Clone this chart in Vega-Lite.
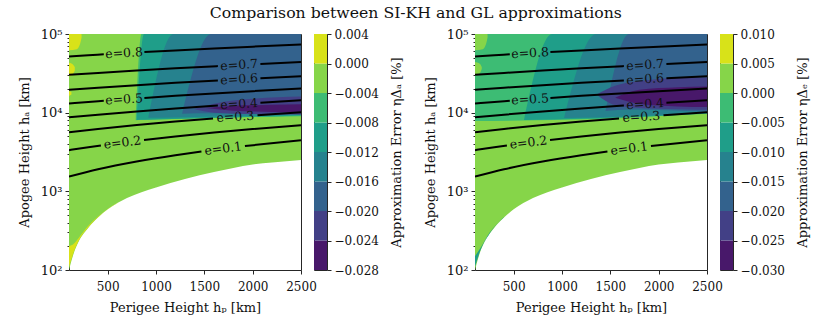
{
"$schema": "https://vega.github.io/schema/vega-lite/v6.json",
"padding": {"left": 17, "top": 4, "right": 2, "bottom": 2},
"title": {"text": "Comparison between SI-KH and GL approximations", "font": "DejaVu Serif", "fontSize": 15.7, "fontWeight": "normal", "color": "#111", "anchor": "middle", "offset": 6, "dx": 2},
"config": {
  "font": "DejaVu Serif",
  "view": {"stroke": "#262626", "strokeWidth": 1},
  "axis": {"domain": false, "grid": false, "labelFont": "DejaVu Serif", "titleFont": "DejaVu Serif", "labelFontSize": 12, "titleFontSize": 13, "titleFontWeight": "normal", "tickColor": "#262626", "labelColor": "#111", "titleColor": "#111", "labelFlush": false, "labelOverlap": false, "tickWidth": 1}
},
"datasets": {
  "ecc": [
    {"e":0.8,"s":"8a","hp":100,"ha":51924},{"e":0.8,"s":"8a","hp":300,"ha":53724},{"e":0.8,"s":"8a","hp":460,"ha":55164},
    {"e":0.8,"s":"8b","hp":880,"ha":58944},{"e":0.8,"s":"8b","hp":1200,"ha":61824},{"e":0.8,"s":"8b","hp":1600,"ha":65424},{"e":0.8,"s":"8b","hp":2000,"ha":69024},{"e":0.8,"s":"8b","hp":2500,"ha":73524},
    {"e":0.7,"s":"7a","hp":100,"ha":30331},{"e":0.7,"s":"7a","hp":400,"ha":32031},{"e":0.7,"s":"7a","hp":800,"ha":34297},{"e":0.7,"s":"7a","hp":1200,"ha":36564},{"e":0.7,"s":"7a","hp":1640,"ha":39057},
    {"e":0.7,"s":"7b","hp":2080,"ha":41551},{"e":0.7,"s":"7b","hp":2500,"ha":43931},
    {"e":0.6,"s":"6a","hp":100,"ha":19534},{"e":0.6,"s":"6a","hp":400,"ha":20734},{"e":0.6,"s":"6a","hp":800,"ha":22334},{"e":0.6,"s":"6a","hp":1200,"ha":23934},{"e":0.6,"s":"6a","hp":1640,"ha":25694},
    {"e":0.6,"s":"6b","hp":2080,"ha":27454},{"e":0.6,"s":"6b","hp":2500,"ha":29134},
    {"e":0.5,"s":"5a","hp":100,"ha":13056},{"e":0.5,"s":"5a","hp":300,"ha":13656},{"e":0.5,"s":"5a","hp":460,"ha":14136},
    {"e":0.5,"s":"5b","hp":880,"ha":15396},{"e":0.5,"s":"5b","hp":1200,"ha":16356},{"e":0.5,"s":"5b","hp":1600,"ha":17556},{"e":0.5,"s":"5b","hp":2000,"ha":18756},{"e":0.5,"s":"5b","hp":2500,"ha":20256},
    {"e":0.4,"s":"4a","hp":100,"ha":8737},{"e":0.4,"s":"4a","hp":400,"ha":9437},{"e":0.4,"s":"4a","hp":800,"ha":10371},{"e":0.4,"s":"4a","hp":1200,"ha":11304},{"e":0.4,"s":"4a","hp":1640,"ha":12331},
    {"e":0.4,"s":"4b","hp":2080,"ha":13357},{"e":0.4,"s":"4b","hp":2500,"ha":14337},
    {"e":0.3,"s":"3a","hp":100,"ha":5653},{"e":0.3,"s":"3a","hp":400,"ha":6210},{"e":0.3,"s":"3a","hp":800,"ha":6953},{"e":0.3,"s":"3a","hp":1200,"ha":7695},{"e":0.3,"s":"3a","hp":1590,"ha":8420},
    {"e":0.3,"s":"3b","hp":2050,"ha":9274},{"e":0.3,"s":"3b","hp":2500,"ha":10110},
    {"e":0.2,"s":"2a","hp":100,"ha":3339},{"e":0.2,"s":"2a","hp":300,"ha":3639},{"e":0.2,"s":"2a","hp":430,"ha":3834},
    {"e":0.2,"s":"2b","hp":876,"ha":4503},{"e":0.2,"s":"2b","hp":1200,"ha":4989},{"e":0.2,"s":"2b","hp":1600,"ha":5589},{"e":0.2,"s":"2b","hp":2000,"ha":6189},{"e":0.2,"s":"2b","hp":2500,"ha":6939},
    {"e":0.1,"s":"1a","hp":100,"ha":1540},{"e":0.1,"s":"1a","hp":400,"ha":1906},{"e":0.1,"s":"1a","hp":800,"ha":2395},{"e":0.1,"s":"1a","hp":1200,"ha":2884},{"e":0.1,"s":"1a","hp":1470,"ha":3214},
    {"e":0.1,"s":"1b","hp":1920,"ha":3764},{"e":0.1,"s":"1b","hp":2500,"ha":4473}
  ],
  "lab": [
    {"t":"e=0.8","e":0.8,"hp":670,"ha":57054},
    {"t":"e=0.7","e":0.7,"hp":1860,"ha":40304},
    {"t":"e=0.6","e":0.6,"hp":1860,"ha":26574},
    {"t":"e=0.5","e":0.5,"hp":670,"ha":14766},
    {"t":"e=0.4","e":0.4,"hp":1860,"ha":12844},
    {"t":"e=0.3","e":0.3,"hp":1820,"ha":8847},
    {"t":"e=0.2","e":0.2,"hp":653,"ha":4169},
    {"t":"e=0.1","e":0.1,"hp":1695,"ha":3489}
  ],
  "regL": [
    {"r":"bg","v":-0.002,"hp":100,"lo":100,"hi":100000},{"r":"bg","v":-0.002,"hp":150,"lo":165,"hi":100000},{"r":"bg","v":-0.002,"hp":200,"lo":230,"hi":100000},{"r":"bg","v":-0.002,"hp":300,"lo":345,"hi":100000},{"r":"bg","v":-0.002,"hp":400,"lo":465,"hi":100000},{"r":"bg","v":-0.002,"hp":500,"lo":590,"hi":100000},{"r":"bg","v":-0.002,"hp":700,"lo":820,"hi":100000},{"r":"bg","v":-0.002,"hp":1000,"lo":1120,"hi":100000},{"r":"bg","v":-0.002,"hp":1300,"lo":1440,"hi":100000},{"r":"bg","v":-0.002,"hp":1600,"lo":1760,"hi":100000},{"r":"bg","v":-0.002,"hp":2000,"lo":2200,"hi":100000},{"r":"bg","v":-0.002,"hp":2200,"lo":2330,"hi":100000},{"r":"bg","v":-0.002,"hp":2500,"lo":2500,"hi":100000},
    {"r":"y1","v":0.002,"hp":100,"lo":62000,"hi":100000},{"r":"y1","v":0.002,"hp":180,"lo":64000,"hi":100000},{"r":"y1","v":0.002,"hp":215,"lo":75000,"hi":100000},{"r":"y1","v":0.002,"hp":230,"lo":90000,"hi":99000},
    {"r":"y2","v":0.002,"hp":100,"lo":29000,"hi":43000},{"r":"y2","v":0.002,"hp":130,"lo":30000,"hi":42000},{"r":"y2","v":0.002,"hp":160,"lo":34000,"hi":38000},
    {"r":"y3","v":0.002,"hp":100,"lo":16300,"hi":18900},{"r":"y3","v":0.002,"hp":125,"lo":17000,"hi":18300},
    {"r":"y4","v":0.002,"hp":100,"lo":110,"hi":200},{"r":"y4","v":0.002,"hp":150,"lo":170,"hi":215},{"r":"y4","v":0.002,"hp":200,"lo":235,"hi":255},{"r":"y4","v":0.002,"hp":300,"lo":350,"hi":364},{"r":"y4","v":0.002,"hp":400,"lo":468,"hi":477},{"r":"y4","v":0.002,"hp":500,"lo":592,"hi":598},{"r":"y4","v":0.002,"hp":600,"lo":706,"hi":709},
    {"r":"l5","v":-0.006,"hp":790,"lo":8000,"hi":8000},{"r":"l5","v":-0.006,"hp":850,"lo":8050,"hi":100000},{"r":"l5","v":-0.006,"hp":2500,"lo":9000,"hi":100000},
    {"r":"l4","v":-0.010,"hp":800,"lo":8050,"hi":8050},{"r":"l4","v":-0.010,"hp":876,"lo":8100,"hi":100000},{"r":"l4","v":-0.010,"hp":2500,"lo":9200,"hi":100000},
    {"r":"l3","v":-0.014,"hp":920,"lo":8600,"hi":8600},{"r":"l3","v":-0.014,"hp":1180,"lo":8700,"hi":100000},{"r":"l3","v":-0.014,"hp":2500,"lo":9400,"hi":100000},
    {"r":"l2","v":-0.018,"hp":1270,"lo":9700,"hi":9700},{"r":"l2","v":-0.018,"hp":1570,"lo":9800,"hi":100000},{"r":"l2","v":-0.018,"hp":2500,"lo":9600,"hi":100000},
    {"r":"l1","v":-0.022,"hp":1393,"lo":11130,"hi":11130},{"r":"l1","v":-0.022,"hp":1600,"lo":10000,"hi":13000},{"r":"l1","v":-0.022,"hp":2000,"lo":9600,"hi":15000},{"r":"l1","v":-0.022,"hp":2500,"lo":9500,"hi":16000},
    {"r":"l0","v":-0.026,"hp":1517,"lo":11500,"hi":11500},{"r":"l0","v":-0.026,"hp":1800,"lo":10600,"hi":12200},{"r":"l0","v":-0.026,"hp":2200,"lo":10200,"hi":12600},{"r":"l0","v":-0.026,"hp":2500,"lo":10000,"hi":12800}
  ],
  "regR": [
    {"r":"bg","v":0.0025,"hp":100,"lo":100,"hi":100000},{"r":"bg","v":0.0025,"hp":150,"lo":165,"hi":100000},{"r":"bg","v":0.0025,"hp":200,"lo":230,"hi":100000},{"r":"bg","v":0.0025,"hp":300,"lo":345,"hi":100000},{"r":"bg","v":0.0025,"hp":400,"lo":465,"hi":100000},{"r":"bg","v":0.0025,"hp":500,"lo":590,"hi":100000},{"r":"bg","v":0.0025,"hp":700,"lo":820,"hi":100000},{"r":"bg","v":0.0025,"hp":1000,"lo":1120,"hi":100000},{"r":"bg","v":0.0025,"hp":1300,"lo":1440,"hi":100000},{"r":"bg","v":0.0025,"hp":1600,"lo":1760,"hi":100000},{"r":"bg","v":0.0025,"hp":2000,"lo":2200,"hi":100000},{"r":"bg","v":0.0025,"hp":2200,"lo":2330,"hi":100000},{"r":"bg","v":0.0025,"hp":2500,"lo":2500,"hi":100000},
    {"r":"t1","v":-0.0075,"hp":100,"lo":110,"hi":150},{"r":"t1","v":-0.0075,"hp":150,"lo":170,"hi":185},{"r":"t1","v":-0.0075,"hp":250,"lo":290,"hi":297},{"r":"t1","v":-0.0075,"hp":400,"lo":468,"hi":472},
    {"r":"r5","v":-0.0025,"hp":100,"lo":7840,"hi":100000},{"r":"r5","v":-0.0025,"hp":1383,"lo":8310,"hi":100000},{"r":"r5","v":-0.0025,"hp":2500,"lo":9900,"hi":100000},
    {"r":"g1","v":0.0025,"hp":100,"lo":62000,"hi":100000},{"r":"g1","v":0.0025,"hp":180,"lo":64000,"hi":100000},{"r":"g1","v":0.0025,"hp":215,"lo":75000,"hi":100000},{"r":"g1","v":0.0025,"hp":230,"lo":90000,"hi":99000},
    {"r":"g2","v":0.0025,"hp":100,"lo":30000,"hi":44000},{"r":"g2","v":0.0025,"hp":150,"lo":32000,"hi":42000},{"r":"g2","v":0.0025,"hp":170,"lo":36000,"hi":38000},
    {"r":"r4","v":-0.0075,"hp":607,"lo":8070,"hi":8070},{"r":"r4","v":-0.0075,"hp":897,"lo":8200,"hi":100000},{"r":"r4","v":-0.0075,"hp":2500,"lo":9700,"hi":100000},
    {"r":"r3","v":-0.0125,"hp":1021,"lo":8560,"hi":8560},{"r":"r3","v":-0.0125,"hp":1352,"lo":8700,"hi":100000},{"r":"r3","v":-0.0125,"hp":2500,"lo":10000,"hi":100000},
    {"r":"r2","v":-0.0175,"hp":1450,"lo":10500,"hi":10500},{"r":"r2","v":-0.0175,"hp":1693,"lo":11000,"hi":100000},{"r":"r2","v":-0.0175,"hp":2500,"lo":10300,"hi":100000},
    {"r":"r1","v":-0.0225,"hp":1357,"lo":17000,"hi":17000},{"r":"r1","v":-0.0225,"hp":1550,"lo":12500,"hi":22000},{"r":"r1","v":-0.0225,"hp":1900,"lo":11300,"hi":26000},{"r":"r1","v":-0.0225,"hp":2300,"lo":11000,"hi":28000},{"r":"r1","v":-0.0225,"hp":2500,"lo":10900,"hi":28000},
    {"r":"r0","v":-0.0275,"hp":1550,"lo":15500,"hi":15500},{"r":"r0","v":-0.0275,"hp":1800,"lo":13000,"hi":19500},{"r":"r0","v":-0.0275,"hp":2200,"lo":12000,"hi":21000},{"r":"r0","v":-0.0275,"hp":2500,"lo":11800,"hi":21500}
  ],
  "cbL": [
    {"lo":-0.028,"hi":-0.024,"v":-0.026},{"lo":-0.024,"hi":-0.020,"v":-0.022},{"lo":-0.020,"hi":-0.016,"v":-0.018},{"lo":-0.016,"hi":-0.012,"v":-0.014},
    {"lo":-0.012,"hi":-0.008,"v":-0.010},{"lo":-0.008,"hi":-0.004,"v":-0.006},{"lo":-0.004,"hi":0.0,"v":-0.002},{"lo":0.0,"hi":0.004,"v":0.002}
  ],
  "cbR": [
    {"lo":-0.030,"hi":-0.025,"v":-0.0275},{"lo":-0.025,"hi":-0.020,"v":-0.0225},{"lo":-0.020,"hi":-0.015,"v":-0.0175},{"lo":-0.015,"hi":-0.010,"v":-0.0125},
    {"lo":-0.010,"hi":-0.005,"v":-0.0075},{"lo":-0.005,"hi":0.0,"v":-0.0025},{"lo":0.0,"hi":0.005,"v":0.0025},{"lo":0.005,"hi":0.010,"v":0.0075}
  ]
},
"resolve": {"scale": {"color": "independent", "x": "independent", "y": "independent"}},
"bounds": "flush",
"spacing": 13,
"hconcat": [
  {
    "width": 232, "height": 236,
    "layer": [
      {
        "data": {"name": "regL"},
        "mark": {"type": "area", "interpolate": "monotone", "clip": true},
        "encoding": {
          "x": {"field": "hp", "type": "quantitative", "scale": {"domain": [100, 2500], "nice": false, "zero": false},
                "axis": {"values": [500, 1000, 1500, 2000, 2500], "format": "d", "tickSize": 4, "labelPadding": 7, "title": "Perigee Height hₚ [km]", "titlePadding": 9}},
          "y": {"field": "lo", "type": "quantitative", "stack": null, "scale": {"type": "log", "domain": [100, 100000], "nice": false},
                "axis": {"values": [100,200,300,400,500,600,700,800,900,1000,2000,3000,4000,5000,6000,7000,8000,9000,10000,20000,30000,40000,50000,60000,70000,80000,90000,100000],
                         "labelExpr": "datum.value==100?'10²':datum.value==1000?'10³':datum.value==10000?'10⁴':datum.value==100000?'10⁵':''",
                         "labelFontSize": 13,
                         "tickSize": {"condition": {"test": "datum.value==100||datum.value==1000||datum.value==10000||datum.value==100000", "value": 4}, "value": 2},
                         "labelPadding": 3, "title": "Apogee Height hₐ [km]", "titlePadding": 9}},
          "y2": {"field": "hi"},
          "color": {"field": "v", "type": "quantitative", "scale": {"type": "threshold", "domain": [-0.024, -0.020, -0.016, -0.012, -0.008, -0.004, 0], "range": ["#48186a", "#424086", "#33628d", "#26828e", "#1f9e89", "#3dbc74", "#86d549", "#d8e219"]}, "legend": null},
          "detail": {"field": "r", "type": "nominal"}
        }
      },
      {
        "data": {"name": "ecc"},
        "mark": {"type": "line", "color": "black", "strokeWidth": 2, "interpolate": "monotone", "clip": true},
        "encoding": {
          "x": {"field": "hp", "type": "quantitative"},
          "y": {"field": "ha", "type": "quantitative"},
          "detail": {"field": "s", "type": "nominal"}
        }
      },
      {
        "data": {"name": "lab"},
        "mark": {"type": "text", "font": "DejaVu Serif", "fontSize": 12.5, "color": "#111", "align": "center", "baseline": "middle"},
        "encoding": {
          "x": {"field": "hp", "type": "quantitative"},
          "y": {"field": "ha", "type": "quantitative"},
          "text": {"field": "t"},
          "angle": {"condition": {"test": "datum.e < 0.25", "value": 353}, "value": 356.5}
        }
      }
    ]
  },
  {
    "width": 13, "height": 236,
    "data": {"name": "cbL"},
    "mark": {"type": "rect"},
    "encoding": {
      "x": {"value": 0}, "x2": {"value": "width"},
      "y": {"field": "lo", "type": "quantitative", "scale": {"domain": [-0.028, 0.004], "nice": false, "zero": false},
            "axis": {"orient": "right", "values": [-0.028, -0.024, -0.020, -0.016, -0.012, -0.008, -0.004, 0, 0.004],
                     "labelExpr": "replace(format(datum.value, '.3f'), '-', '−')", "tickSize": 4, "labelPadding": 3,
                     "title": "Approximation Error ηΔₐ [%]", "titleFontSize": 13, "titleAngle": 270, "titleBaseline": "top", "titlePadding": 12}},
      "y2": {"field": "hi"},
      "color": {"field": "v", "type": "quantitative", "scale": {"type": "threshold", "domain": [-0.024, -0.020, -0.016, -0.012, -0.008, -0.004, 0], "range": ["#48186a", "#424086", "#33628d", "#26828e", "#1f9e89", "#3dbc74", "#86d549", "#d8e219"]}, "legend": null}
    }
  },
  {
    "width": 122, "height": 236,
    "view": {"stroke": null},
    "data": {"values": [{"k": ""}]},
    "mark": {"type": "text"},
    "encoding": {"text": {"field": "k"}}
  },
  {
    "width": 232, "height": 236,
    "layer": [
      {
        "data": {"name": "regR"},
        "mark": {"type": "area", "interpolate": "monotone", "clip": true},
        "encoding": {
          "x": {"field": "hp", "type": "quantitative", "scale": {"domain": [100, 2500], "nice": false, "zero": false},
                "axis": {"values": [500, 1000, 1500, 2000, 2500], "format": "d", "tickSize": 4, "labelPadding": 7, "title": "Perigee Height hₚ [km]", "titlePadding": 9}},
          "y": {"field": "lo", "type": "quantitative", "stack": null, "scale": {"type": "log", "domain": [100, 100000], "nice": false},
                "axis": {"values": [100,200,300,400,500,600,700,800,900,1000,2000,3000,4000,5000,6000,7000,8000,9000,10000,20000,30000,40000,50000,60000,70000,80000,90000,100000],
                         "labelExpr": "datum.value==100?'10²':datum.value==1000?'10³':datum.value==10000?'10⁴':datum.value==100000?'10⁵':''",
                         "labelFontSize": 13,
                         "tickSize": {"condition": {"test": "datum.value==100||datum.value==1000||datum.value==10000||datum.value==100000", "value": 4}, "value": 2},
                         "labelPadding": 3, "title": "Apogee Height hₐ [km]", "titlePadding": 9}},
          "y2": {"field": "hi"},
          "color": {"field": "v", "type": "quantitative", "scale": {"type": "threshold", "domain": [-0.025, -0.020, -0.015, -0.010, -0.005, 0, 0.005], "range": ["#48186a", "#424086", "#33628d", "#26828e", "#1f9e89", "#3dbc74", "#86d549", "#d8e219"]}, "legend": null},
          "detail": {"field": "r", "type": "nominal"}
        }
      },
      {
        "data": {"name": "ecc"},
        "mark": {"type": "line", "color": "black", "strokeWidth": 2, "interpolate": "monotone", "clip": true},
        "encoding": {
          "x": {"field": "hp", "type": "quantitative"},
          "y": {"field": "ha", "type": "quantitative"},
          "detail": {"field": "s", "type": "nominal"}
        }
      },
      {
        "data": {"name": "lab"},
        "mark": {"type": "text", "font": "DejaVu Serif", "fontSize": 12.5, "color": "#111", "align": "center", "baseline": "middle"},
        "encoding": {
          "x": {"field": "hp", "type": "quantitative"},
          "y": {"field": "ha", "type": "quantitative"},
          "text": {"field": "t"},
          "angle": {"condition": {"test": "datum.e < 0.25", "value": 353}, "value": 356.5}
        }
      }
    ]
  },
  {
    "width": 13, "height": 236,
    "data": {"name": "cbR"},
    "mark": {"type": "rect"},
    "encoding": {
      "x": {"value": 0}, "x2": {"value": "width"},
      "y": {"field": "lo", "type": "quantitative", "scale": {"domain": [-0.030, 0.010], "nice": false, "zero": false},
            "axis": {"orient": "right", "values": [-0.030, -0.025, -0.020, -0.015, -0.010, -0.005, 0, 0.005, 0.010],
                     "labelExpr": "replace(format(datum.value, '.3f'), '-', '−')", "tickSize": 4, "labelPadding": 3,
                     "title": "Approximation Error ηΔₑ [%]", "titleFontSize": 13, "titleAngle": 270, "titleBaseline": "top", "titlePadding": 12}},
      "y2": {"field": "hi"},
      "color": {"field": "v", "type": "quantitative", "scale": {"type": "threshold", "domain": [-0.025, -0.020, -0.015, -0.010, -0.005, 0, 0.005], "range": ["#48186a", "#424086", "#33628d", "#26828e", "#1f9e89", "#3dbc74", "#86d549", "#d8e219"]}, "legend": null}
    }
  }
]
}
